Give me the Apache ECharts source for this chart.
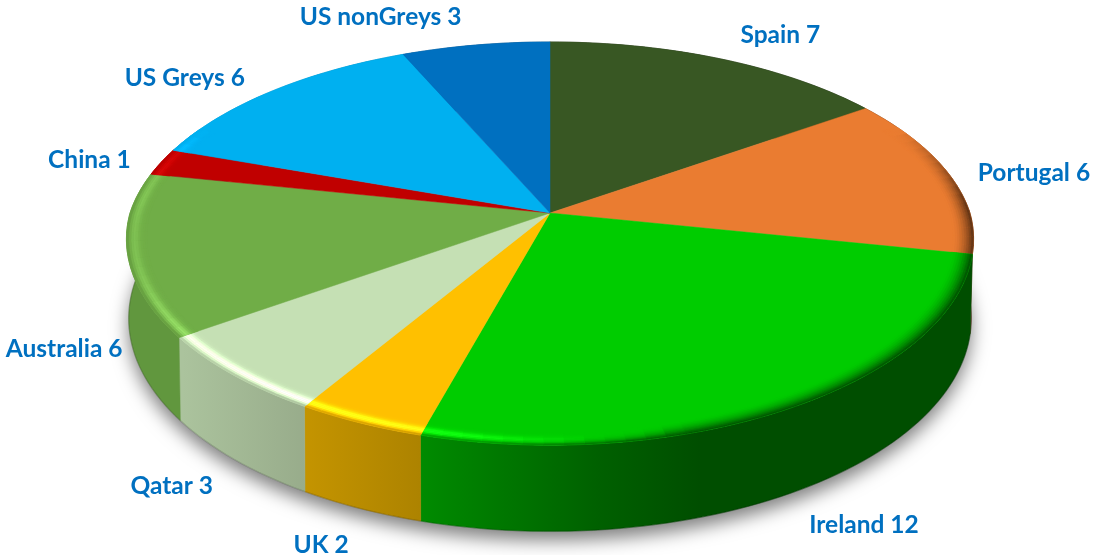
<!DOCTYPE html>
<html><head><meta charset="utf-8">
<style>html,body{margin:0;padding:0;background:#fff}#c{width:1094px;height:555px}</style>
<script src="https://cdn.jsdelivr.net/npm/echarts@6/dist/echarts.min.js"></script>
</head><body><div id="c"></div>
<script>
const categories = ['Spain','Portugal','Ireland','UK','Qatar','Australia','China','US Greys','US nonGreys'];
const values = [7,6,12,2,3,6,1,6,3];
const colors = ['#385723','#EA7C31','#00CC00','#FFC000','#C5E0B4','#70AD47','#C00000','#00B0F0','#0070C0'];
const labelOffsets = [[60,-24],[85,-1.5],[68.5,118.5],[-39,122],[-61.5,111.5],[-63.5,95],[-72,-1.5],[-87,-13.5],[-95,-28]];

const TOP = {cx:550, cy:213, a:420, b:197, k:0.1515, kxFront:0.13};
const BOT = {cx:550, cy:290, a:417.5, b:209, k:0.134, kxFront:0.134};
const total = values.reduce((s,v)=>s+v,0);
const starts = []; values.reduce((s,v,i)=>{starts[i]=s; return s+v/total*360;},0);
const rad = d=>d*Math.PI/180;
function proj(g,deg,r){ r=r===undefined?1:r;
  const X=r*Math.sin(rad(deg)), Y=-r*Math.cos(rad(deg)), w=1-g.k*Y, wx=1-(Y>0?g.kxFront:g.k)*Y;
  return [g.cx+g.a*X/wx, g.cy+g.b*Y/w];
}
function arc(g,d1,d2,r){ const n=Math.max(2,Math.ceil(Math.abs(d2-d1)/1.5)), p=[];
  for(let i=0;i<=n;i++) p.push(proj(g,d1+(d2-d1)*i/n,r)); return p; }
function lerpTable(tbl,x){
  if(x<=tbl[0][0]) return tbl[0][1];
  for(let i=1;i<tbl.length;i++) if(x<=tbl[i][0]){
    const a=tbl[i-1],b=tbl[i]; return a[1]+(b[1]-a[1])*(x-a[0])/(b[0]-a[0]);
  }
  return tbl[tbl.length-1][1];
}
function rgb(h){return [1,3,5].map(i=>parseInt(h.substr(i,2),16));}
const css=c=>'rgb('+c.map(v=>Math.max(0,Math.min(255,Math.round(v)))).join(',')+')';
const SIDE_F=[[125,.87],[183,.87],[305,.77],[420,.68],[600,.47],[700,.38],[972,.38]];
const HILITE=[[125,.25],[180,.75],[300,1],[420,.85],[520,.35],[600,0]];
const DARK_P=[[500,9],[680,1.8]];
const sideColor=(base,x)=>{const f=lerpTable(SIDE_F,x);return base.map(v=>v*f);};
function sideFill(i){
  const base=rgb(colors[i]);
  return {type:'linear',x:125,y:0,x2:972,y2:0,global:true,
    colorStops:SIDE_F.map(s=>({offset:(s[0]-125)/847,color:css(base.map(v=>v*s[1]))}))};
}
function rimColor(base,deg,t,x){
  const Y=-Math.cos(rad(deg));
  const s=Math.max(0,Math.min(1,(Y+.45)/.4));
  const h=lerpTable(HILITE,x)*s, bell=Math.exp(-Math.pow((t-.62)/.27,2));
  const m=1+.30*h*bell, add=26*h*bell*bell;
  const lit=base.map(v=>v*m+add);
  const d=s*Math.pow(t,lerpTable(DARK_P,x));
  const sc=sideColor(base,x);
  return lit.map((v,j)=>v+(sc[j]-v)*d);
}
const RIM_IN=.952, BANDS=9;
function renderShadow(){
  return {type:'polygon',shape:{points:arc(BOT,0,360)},
    style:{fill:'#d8d8d8',shadowBlur:18,shadowColor:'rgba(0,0,0,.5)',shadowOffsetY:9,shadowOffsetX:0}};
}
function renderSide(params){
  const i=params.dataIndex, d1=starts[i], d2=d1+values[i]/total*360;
  const top=arc(TOP,d1,d2), bot=arc(BOT,d1,d2);
  return {type:'group',children:[
    {type:'polygon',shape:{points:top.concat(bot.slice().reverse())},
     style:{fill:sideFill(i),stroke:sideFill(i),lineWidth:.5}},
    {type:'polyline',shape:{points:bot},style:{fill:null,stroke:'rgba(0,0,0,.16)',lineWidth:1.4}}
  ]};
}
function renderTop(params){
  const i=params.dataIndex, d1=starts[i], d2=d1+values[i]/total*360, base=rgb(colors[i]);
  const kids=[{type:'polygon',shape:{points:[[TOP.cx,TOP.cy]].concat(arc(TOP,d1,d2))},
    style:{fill:colors[i],stroke:colors[i],lineWidth:.5}}];
  const n=Math.ceil((d2-d1)/2.5);
  for(let q=0;q<n;q++){
    const a=d1+(d2-d1)*q/n, b=d1+(d2-d1)*(q+1)/n, m=(a+b)/2;
    if(-Math.cos(rad(m))<-.45) continue;
    const x=proj(TOP,m)[0];
    for(let j=0;j<BANDS;j++){
      const r1=RIM_IN+(1-RIM_IN)*j/BANDS, r2=RIM_IN+(1-RIM_IN)*(j+1)/BANDS, t=(j+.5)/BANDS;
      const c=css(rimColor(base,m,t,x));
      kids.push({type:'polygon',shape:{points:[proj(TOP,a,r1),proj(TOP,b,r1),proj(TOP,b,r2),proj(TOP,a,r2)]},
        style:{fill:c,stroke:c,lineWidth:.5}});
    }
  }
  return {type:'group',children:kids};
}
function renderLabel(params){
  const i=params.dataIndex, mid=starts[i]+values[i]/total*180, p=proj(TOP,mid);
  return {type:'text',style:{x:p[0]+labelOffsets[i][0],y:p[1]+labelOffsets[i][1],
    text:categories[i]+' '+values[i],fill:'#0070C0',align:'center',verticalAlign:'middle',
    font:'bold 24.5px Lato, "Open Sans", sans-serif'}};
}
const chart=echarts.init(document.getElementById('c'),null,{renderer:'canvas'});
const mk=(fn,z,data)=>({type:'custom',coordinateSystem:'none',renderItem:fn,data:data||values,z:z,silent:true,clip:false,animation:false});
chart.setOption({animation:false,backgroundColor:'#ffffff',
  series:[mk(renderShadow,1,[total]),mk(renderSide,2),mk(renderTop,3),mk(renderLabel,4)]});
</script></body></html>
